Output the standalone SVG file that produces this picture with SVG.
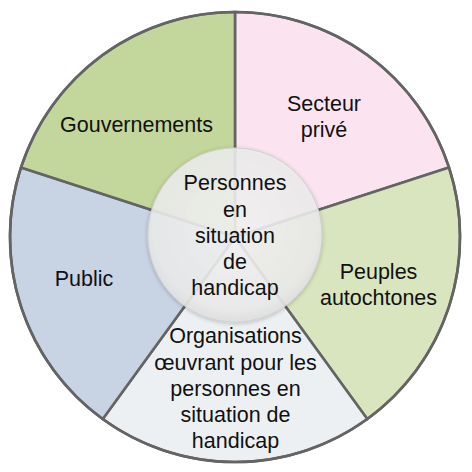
<svg xmlns="http://www.w3.org/2000/svg" width="472" height="472" viewBox="0 0 472 472">
<defs>
<style>
.sec{stroke:#646464;stroke-width:2.6;stroke-linejoin:round}
.t{font-family:"Liberation Sans",Arial,sans-serif;font-size:21.5px;fill:#111;text-anchor:middle}
</style>
<radialGradient id="cg" cx="0.5" cy="0.45" r="0.55">
<stop offset="0" stop-color="#f4f4f4" stop-opacity="0.86"/>
<stop offset="0.85" stop-color="#ececec" stop-opacity="0.88"/>
<stop offset="1" stop-color="#e0e0e0" stop-opacity="0.92"/>
</radialGradient>
<filter id="sh" x="-20%" y="-20%" width="140%" height="140%">
<feGaussianBlur in="SourceAlpha" stdDeviation="2"/>
<feOffset dy="1" result="b"/>
<feComponentTransfer><feFuncA type="linear" slope="0.25"/></feComponentTransfer>
<feMerge><feMergeNode/><feMergeNode in="SourceGraphic"/></feMerge>
</filter>
</defs>
<rect width="472" height="472" fill="#ffffff"/>
<g id="sectors">
<g id="secteur-prive">
<path class="sec" fill="#fbe4f0" d="M235,237 L235,12 A225,225 0 0 1 448.99,167.47 Z"/>
<text class="t" x="324" y="111">Secteur</text>
<text class="t" x="324" y="137">privé</text>
</g>
<g id="peuples-autochtones">
<path class="sec" fill="#d9e5bf" d="M235,237 L448.99,167.47 A225,225 0 0 1 367.25,419.03 Z"/>
<text class="t" x="378.5" y="279">Peuples</text>
<text class="t" x="378.5" y="305">autochtones</text>
</g>
<g id="organisations">
<path class="sec" fill="#edf0f2" d="M235,237 L367.25,419.03 A225,225 0 0 1 102.75,419.03 Z"/>
</g>
<g id="public">
<path class="sec" fill="#c8d3e3" d="M235,237 L102.75,419.03 A225,225 0 0 1 21.01,167.47 Z"/>
<text class="t" x="84" y="286">Public</text>
</g>
<g id="gouvernements">
<path class="sec" fill="#c3d69b" d="M235,237 L21.01,167.47 A225,225 0 0 1 235,12 Z"/>
<text class="t" x="136.5" y="132">Gouvernements</text>
</g>
<circle cx="235" cy="237" r="225" fill="none" stroke="#646464" stroke-width="2.6"/>
</g>
<g id="personnes">
<circle cx="235" cy="235" r="87" fill="url(#cg)" stroke="#d0d0d0" stroke-width="1" filter="url(#sh)"/>
<text class="t" x="235" y="190">Personnes</text>
<text class="t" x="235" y="216.5">en</text>
<text class="t" x="235" y="243">situation</text>
<text class="t" x="235" y="269">de</text>
<text class="t" x="235" y="295">handicap</text>
</g>
<g id="organisations-label">
<text class="t" x="235.5" y="343">Organisations</text>
<text class="t" x="235.5" y="369.5">œuvrant pour les</text>
<text class="t" x="235.5" y="396">personnes en</text>
<text class="t" x="235.5" y="422">situation de</text>
<text class="t" x="235.5" y="448">handicap</text>
</g>
</svg>
